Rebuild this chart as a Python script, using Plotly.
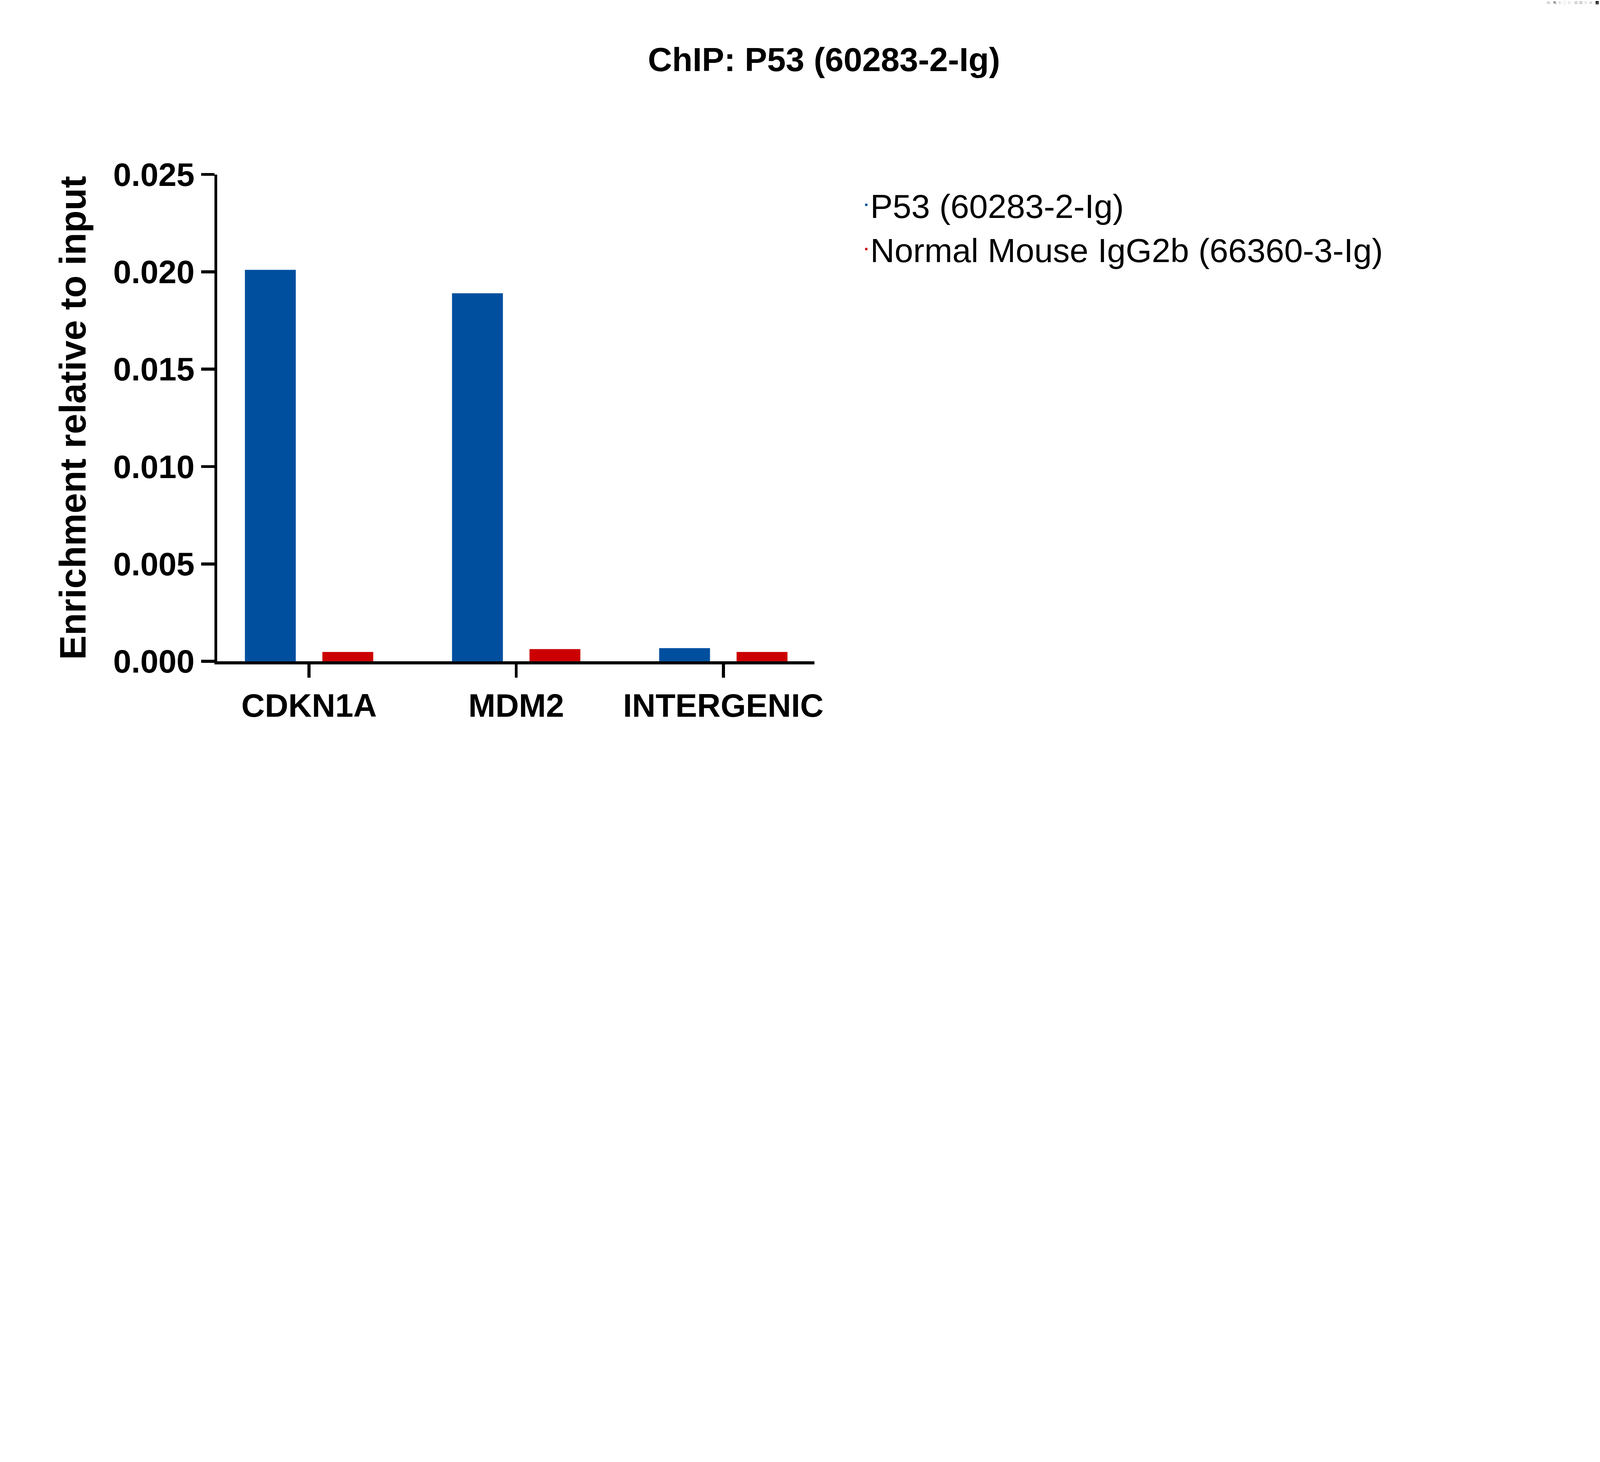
import plotly.graph_objects as go

categories = ["CDKN1A", "MDM2", "INTERGENIC"]
p53_values = [0.0201, 0.0189, 0.00068]
igg_values = [0.00048, 0.00063, 0.00048]
series_names = ["P53 (60283-2-Ig)", "Normal Mouse IgG2b (66360-3-Ig)"]
y_ticks = [0, 0.005, 0.010, 0.015, 0.020, 0.025]
y_tick_labels = ["0.000", "0.005", "0.010", "0.015", "0.020", "0.025"]

FONT = "Liberation Sans, Arial, sans-serif"
fig = go.Figure()
fig.add_bar(x=categories, y=p53_values, name=series_names[0], marker_color="#004f9f",
            width=0.246, offset=-0.31)
fig.add_bar(x=categories, y=igg_values, name=series_names[1], marker_color="#cc0000",
            width=0.246, offset=0.064)

fig.update_layout(
    width=7870, height=3743,
    paper_bgcolor="white", plot_bgcolor="white",
    margin=dict(l=1069, r=3864, t=858, b=490),
    title=dict(text="<b>ChIP: P53 (60283-2-Ig)</b>", x=0.515, xref="container",
               y=1 - 291 / 3743, yref="container", yanchor="middle",
               font=dict(family=FONT, size=165, color="black")),
    legend=dict(x=1.08, y=0.985, xanchor="left", yanchor="top",
                font=dict(family=FONT, size=165, color="black"),
                tracegroupgap=60, bgcolor="rgba(0,0,0,0)"),
    showlegend=True,
)
fig.update_xaxes(range=[-0.443, 2.44], showline=True, linewidth=15, linecolor="black",
                 ticks="outside", ticklen=65, tickwidth=15, tickcolor="black",
                 showgrid=False, zeroline=False,
                 tickfont=dict(family=FONT, size=160, color="black"))
fig.update_xaxes(tickvals=categories, ticktext=[f"<b>{c}</b>" for c in categories])
fig.update_yaxes(range=[0, 0.025], showline=True, linewidth=15, linecolor="black",
                 ticks="outside", ticklen=65, tickwidth=15, tickcolor="black",
                 showgrid=False, zeroline=False,
                 tickvals=y_ticks, ticktext=[f"<b>{t}</b>" for t in y_tick_labels],
                 tickfont=dict(family=FONT, size=160, color="black"),
                 title=dict(text="<b>Enrichment relative to input</b>", standoff=80,
                            font=dict(family=FONT, size=180, color="black")))

post = """
document.body.style.margin='0';
document.body.style.overflow='hidden';
var d=document.getElementById('{plot_id}');
var s=Math.min(window.innerWidth/7870, 1);
if (s<1){d.style.transform='scale('+s+')';d.style.transformOrigin='0 0';}
"""
fig.write_html("out.html", post_script=post)
